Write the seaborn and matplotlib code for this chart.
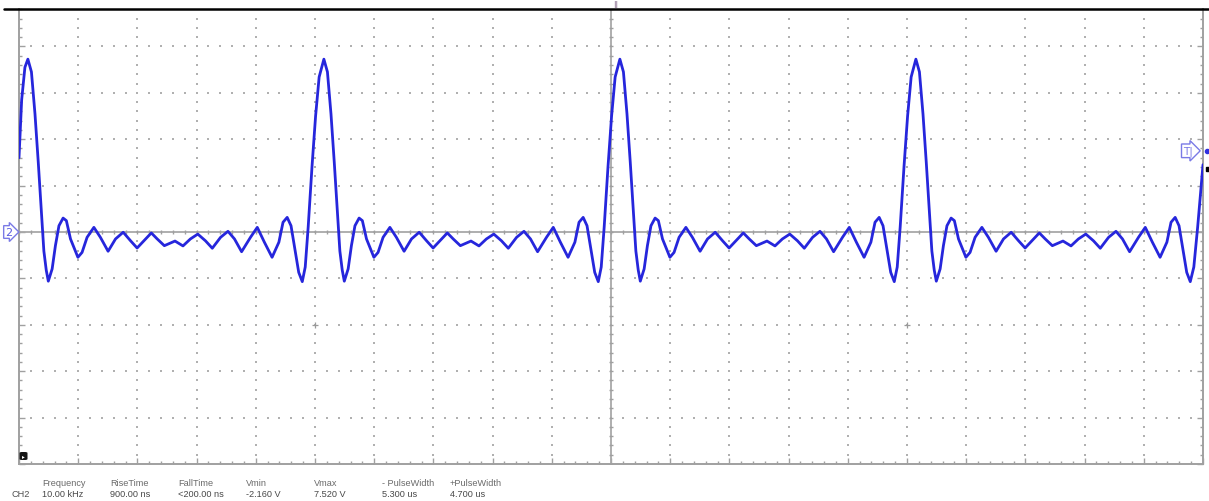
import numpy as np
import matplotlib
matplotlib.use("Agg")
import matplotlib.pyplot as plt
import seaborn as sns
from matplotlib.patches import FancyBboxPatch
from matplotlib.lines import Line2D

# CH2 trace: time in microseconds, level in volts
time_us = [
    -200.0, -199.1, -198.0,
    -197.0, -195.8, -194.6, -193.5, -192.4, -191.6, -190.8, -190.1, -188.8, -187.7,
    -186.5, -185.1, -184.0, -182.6, -180.1, -178.7, -177.0, -174.7, -172.5, -169.9,
    -167.4, -164.8, -162.3, -160.1, -157.8, -155.3, -153.3, -150.9, -147.3, -144.6,
    -142.1, -139.6, -137.0, -134.7, -131.9, -129.4, -127.2, -124.8, -121.8, -119.5,
    -117.1, -114.5, -112.2, -110.8, -109.4, -108.1, -106.6, -105.5, -104.3, -103.3,
    -102.3, -101.0, -99.8, -98.6,
    -97.0, -95.8, -94.6, -93.5, -92.4, -91.6, -90.8, -90.1, -88.8, -87.7,
    -86.5, -85.1, -84.0, -82.6, -80.1, -78.7, -77.0, -74.7, -72.5, -69.9,
    -67.4, -64.8, -62.3, -60.1, -57.8, -55.3, -53.3, -50.9, -47.3, -44.6,
    -42.1, -39.6, -37.0, -34.7, -31.9, -29.4, -27.2, -24.8, -21.8, -19.5,
    -17.1, -14.5, -12.2, -10.8, -9.4, -8.1, -6.6, -5.5, -4.3, -3.3,
    -2.3, -1.0, 0.2, 1.4,
    3.0, 4.2, 5.4, 6.5, 7.6, 8.4, 9.2, 9.9, 11.2, 12.3,
    13.5, 14.9, 16.0, 17.4, 19.9, 21.3, 23.0, 25.3, 27.5, 30.1,
    32.6, 35.2, 37.7, 39.9, 42.2, 44.7, 46.7, 49.1, 52.7, 55.4,
    57.9, 60.4, 63.0, 65.3, 68.1, 70.6, 72.8, 75.2, 78.2, 80.5,
    82.9, 85.5, 87.8, 89.2, 90.6, 91.9, 93.4, 94.5, 95.7, 96.7,
    97.7, 99.0, 100.2, 101.4,
    103.0, 104.2, 105.4, 106.5, 107.6, 108.4, 109.2, 109.9, 111.2, 112.3,
    113.5, 114.9, 116.0, 117.4, 119.9, 121.3, 123.0, 125.3, 127.5, 130.1,
    132.6, 135.2, 137.7, 139.9, 142.2, 144.7, 146.7, 149.1, 152.7, 155.4,
    157.9, 160.4, 163.0, 165.3, 168.1, 170.6, 172.8, 175.2, 178.2, 180.5,
    182.9, 185.5, 187.8, 189.2, 190.6, 191.9, 193.4, 194.5, 195.7, 196.9,
    198.2, 200.0,
]
ch2_volts = [
    3.20, 5.70, 7.10,
    7.45, 6.90, 5.09, 3.02, 0.78, -0.82, -1.64, -2.12, -1.59, -0.59,
    0.27, 0.60, 0.49, -0.30, -1.09, -0.88, -0.23, 0.20, -0.23, -0.83,
    -0.30, -0.01, -0.38, -0.69, -0.38, -0.04, -0.30, -0.59, -0.39, -0.60,
    -0.30, -0.09, -0.38, -0.70, -0.23, 0.03, -0.30, -0.85, -0.23, 0.20,
    -0.44, -1.09, -0.44, 0.42, 0.63, 0.27, -0.88, -1.74, -2.14, -1.51,
    0.22, 2.84, 5.00, 6.68,
    7.45, 6.90, 5.09, 3.02, 0.78, -0.82, -1.64, -2.12, -1.59, -0.59,
    0.27, 0.60, 0.49, -0.30, -1.09, -0.88, -0.23, 0.20, -0.23, -0.83,
    -0.30, -0.01, -0.38, -0.69, -0.38, -0.04, -0.30, -0.59, -0.39, -0.60,
    -0.30, -0.09, -0.38, -0.70, -0.23, 0.03, -0.30, -0.85, -0.23, 0.20,
    -0.44, -1.09, -0.44, 0.42, 0.63, 0.27, -0.88, -1.74, -2.14, -1.51,
    0.22, 2.84, 5.00, 6.68,
    7.45, 6.90, 5.09, 3.02, 0.78, -0.82, -1.64, -2.12, -1.59, -0.59,
    0.27, 0.60, 0.49, -0.30, -1.09, -0.88, -0.23, 0.20, -0.23, -0.83,
    -0.30, -0.01, -0.38, -0.69, -0.38, -0.04, -0.30, -0.59, -0.39, -0.60,
    -0.30, -0.09, -0.38, -0.70, -0.23, 0.03, -0.30, -0.85, -0.23, 0.20,
    -0.44, -1.09, -0.44, 0.42, 0.63, 0.27, -0.88, -1.74, -2.14, -1.51,
    0.22, 2.84, 5.00, 6.68,
    7.45, 6.90, 5.09, 3.02, 0.78, -0.82, -1.64, -2.12, -1.59, -0.59,
    0.27, 0.60, 0.49, -0.30, -1.09, -0.88, -0.23, 0.20, -0.23, -0.83,
    -0.30, -0.01, -0.38, -0.69, -0.38, -0.04, -0.30, -0.59, -0.39, -0.60,
    -0.30, -0.09, -0.38, -0.70, -0.23, 0.03, -0.30, -0.85, -0.23, 0.20,
    -0.44, -1.09, -0.44, 0.42, 0.63, 0.27, -0.88, -1.74, -2.14, -1.51,
    0.22, 2.90,
]
trigger_level = 3.5

# measurement bar
meas_names = ["Frequency", "RiseTime", "FallTime", "Vmin", "Vmax", "- PulseWidth", "+PulseWidth"]
meas_values = ["10.00 kHz", "900.00 ns", "<200.00 ns", "-2.160 V", "7.520 V", "5.300 us", "4.700 us"]

W, H = 1209, 502
sns.set_style("white")
plt.rcParams['font.family'] = ['Liberation Sans', 'DejaVu Sans']

fig = plt.figure(figsize=(W / 100, H / 100), dpi=100)
ax = fig.add_axes([19 / W, 1 - 465 / H, (1203 - 19) / W, (465 - 10) / H])
ax.set_xlim(-200, 200)
ax.set_ylim(-10, (233 - 10) / 23.2)

dot = '#b0b0b0'
# dotted graticule, 5 dots per division
vy = np.arange(-10, 9.61, 0.4)
for gx in range(-180, 181, 20):
    if gx == 0:
        continue
    ax.plot(np.full_like(vy, gx), vy, ls='none', marker='s', ms=1.5, mew=0, color=dot, zorder=1)
hx = np.arange(-200, 200.1, 4)
for gy in range(-8, 9, 2):
    if gy == 0:
        continue
    ax.plot(hx, np.full_like(hx, gy), ls='none', marker='s', ms=1.5, mew=0, color=dot, zorder=1)

# centre cross with small ticks
ax.axvline(0, color='#a8a8a8', lw=1.3, zorder=1)
ax.axhline(0, color='#a8a8a8', lw=1.3, zorder=1)
ax.plot(hx, np.zeros_like(hx), ls='none', marker='|', ms=3.5, mew=1, color='#a0a0a0', zorder=1)
ax.plot(np.zeros_like(vy), vy, ls='none', marker='_', ms=3.5, mew=1, color='#a0a0a0', zorder=1)
ax.plot([-100, 100], [-4, -4], ls='none', marker='+', ms=5, mew=0.9, color='#9a9a9a', zorder=1)

sns.lineplot(x=time_us, y=ch2_volts, ax=ax, color='#2626dc', lw=2.0, sort=False, estimator=None, zorder=3)
ax.lines[-1].set_solid_joinstyle('round')

# frame
for side in ['left', 'right', 'bottom']:
    ax.spines[side].set_color('#a0a0a0')
    ax.spines[side].set_linewidth(1.4)
ax.spines['top'].set_visible(False)
ax.set_xticks(range(-200, 201, 20))
ax.set_xticks(np.arange(-200, 201, 4), minor=True)
ax.set_yticks(range(-10, 10, 2))
ax.set_yticks(np.arange(-10, 9.61, 0.4), minor=True)
ax.tick_params(which='both', direction='in', color='#a0a0a0', labelbottom=False, labelleft=False,
               bottom=True, left=True, right=True, top=False)
ax.tick_params(which='major', length=4, width=1)
ax.tick_params(which='minor', length=2.5, width=1)
ax.set_xlabel('')
ax.set_ylabel('')

# black bar on top of the screen
fig.add_artist(Line2D([4 / W, 1], [1 - 10 / H, 1 - 10 / H], color='black', lw=1.8))
fig.text(616 / W, 1 - 5 / H, 'II', fontsize=6, color='#8a7090', ha='center', va='center',
         family='DejaVu Sans')

# channel 2 ground marker
fig.text(5 / W, 1 - 233 / H, '2', fontsize=8, color='#5a5ae0', ha='left', va='center',
         family='DejaVu Sans',
         bbox=dict(boxstyle='rarrow,pad=0.12', fc='white', ec='#7a7ae6', lw=1))
# trigger level marker
ax.annotate('T|', xy=(200, trigger_level), xycoords='data', xytext=(-15, 0),
            textcoords='offset pixels', fontsize=7.5, color='#7a7ae6', ha='center', va='center',
            family='DejaVu Sans', annotation_clip=False,
            bbox=dict(boxstyle='rarrow,pad=0.15', fc='white', ec='#7a7ae6', lw=1))
ax.plot([201.4], [trigger_level], marker='o', ms=3, color='#3030e0', clip_on=False, zorder=5)
ax.plot([201.6], [2.7], marker='s', ms=2.5, color='black', clip_on=False, zorder=5)

# little icon at bottom left
fig.add_artist(FancyBboxPatch((19.5 / W, 1 - 461 / H), 8 / W, 8 / H,
                              boxstyle='round,pad=0,rounding_size=0.002', fc='#151515', ec='none'))
fig.text(23.5 / W, 1 - 457 / H, '▸', fontsize=4, color='white', ha='center', va='center',
         family='DejaVu Sans')

# measurement bar text
fig.text(12 / W, 1 - 495 / H, 'CH2', fontsize=6.6, color='#505050', va='center')
for i, (nm, val) in enumerate(zip(meas_names, meas_values)):
    x = 42 + i * 68
    fig.text(x / W, 1 - 484 / H, nm, fontsize=6.6, color='#6a6a6a', va='center')
    fig.text(x / W, 1 - 495 / H, val, fontsize=6.6, color='#484848', va='center')

fig.savefig('out.png', dpi=100, facecolor='white')
